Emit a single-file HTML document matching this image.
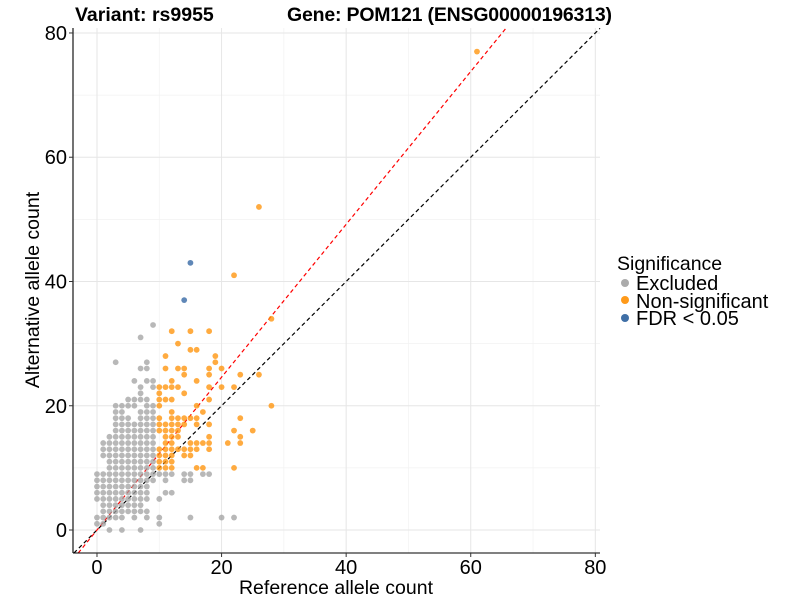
<!DOCTYPE html>
<html><head><meta charset="utf-8"><style>
body{margin:0;background:#fff;}
svg{display:block;font-family:"Liberation Sans",Arial,sans-serif;}
</style></head><body>
<svg id="chart" width="800" height="600" viewBox="0 0 800 600">
<rect width="800" height="600" fill="#fff"/>
<g id="grid"></g>
<g id="lines"></g>
<g id="points"></g>
<g id="axes"></g>
<text x="75" y="21" font-size="19.5" font-weight="bold">Variant: rs9955</text>
<text x="287" y="21" font-size="19.5" font-weight="bold" textLength="325">Gene: POM121 (ENSG00000196313)</text>
<text x="336" y="594" font-size="19.5" text-anchor="middle">Reference allele count</text>
<text transform="translate(39,290) rotate(-90)" font-size="19.5" text-anchor="middle">Alternative allele count</text>
<g>
<text x="617" y="270" font-size="19.5">Significance</text>
<circle cx="625" cy="283" r="4" fill="#ababab"/>
<text x="636" y="290" font-size="20">Excluded</text>
<circle cx="625" cy="300" r="4" fill="#ff9a1a"/>
<text x="636" y="308" font-size="20">Non-significant</text>
<circle cx="625" cy="318" r="4" fill="#3f6fa6"/>
<text x="636" y="325" font-size="20">FDR &lt; 0.05</text>
</g>
</svg>
<script>
const xTicks=[0,20,40,60,80];
const yTicks=[0,20,40,60,80];
const minorTicks=[10,30,50,70];
// excluded points: rows of [alt count, [ref counts]]
const grayRows=[
[0,[2,4,7]],[1,[0,1,10]],[2,[0,1,2,3,4,6,8,10,15,20,22]],[3,[1,2,3,4,5,6,7,8]],
[4,[1,2,3,4,5,6,7]],[5,[0,1,2,3,4,5,6,7,8,10]],[6,[0,1,2,3,4,5,6,7,8,11,12]],
[7,[0,1,2,3,4,5,6,7,8]],[8,[0,1,2,3,4,5,6,7,8,9,11,14,15]],[9,[0,1,2,3,4,5,6,7,8,9,10,11,12,14,15,17,18]],
[10,[2,3,4,5,6,7,8,9]],[11,[2,3,4,5,6,7,8,9]],[12,[1,2,3,4,5,6,7,8,9]],[13,[1,2,3,4,5,6,7,8,9]],
[14,[1,2,3,4,5,6,7,8,9]],[15,[2,3,4,5,6,7,8,9]],[16,[3,4,5,6,7,8,9]],[17,[3,4,5,6,7,8,9]],
[18,[3,4,5,7,8,9]],[19,[3,4,7,8,9]],[20,[3,4,5,6,8,9]],[21,[5,6,7,8]],[22,[7]],[23,[7,9]],
[24,[6,8,9]],[26,[7,8]],[27,[3,8]],[31,[7]],[33,[9]]
];
const orangeRows=[
[10,[10,11,12,16,17,22]],[11,[10,11,12]],[12,[10,11,12,14,15]],[13,[10,11,12,13,14,15,16,18]],
[14,[11,12,15,16,17,18,21,23]],[15,[11,12,13,18,23]],[16,[10,11,12,13,22,25]],
[17,[10,11,12,13,14,16,18]],[18,[10,12,13,14,15,16,23]],[19,[12,17]],[20,[10,16,28]],
[21,[10,11,12,18]],[22,[10,14]],[23,[10,11,12,13,18,20,22]],[24,[12,16]],[25,[14,18,23,26]],
[26,[11,13,14,18,20]],[27,[19]],[28,[11,19]],[29,[15,16]],[30,[13]],[32,[12,15,18]],
[34,[28]],[41,[22]],[52,[26]],[77,[61]]
];
const blueRef=[14,15];
const blueAlt=[37,43];
const redSlope=1.23, blackSlope=1;

const NS="http://www.w3.org/2000/svg";
const X0=73,X1=600,Y0=28,Y1=553;
const xmin=-3.85,xmax=80.75,ymin=-3.7,ymax=80.8;
function sx(v){return X0+(v-xmin)/(xmax-xmin)*(X1-X0);}
function sy(v){return Y1-(v-ymin)/(ymax-ymin)*(Y1-Y0);}
function mk(tag,attrs,parent){const e=document.createElementNS(NS,tag);for(const k in attrs)e.setAttribute(k,attrs[k]);parent.appendChild(e);return e;}
const grid=document.getElementById('grid');
minorTicks.forEach(t=>{
 let l=mk('line',{x1:sx(t),x2:sx(t),y1:Y0,y2:Y1,stroke:'#f2f2f2','stroke-width':0.7},grid);
 
 
 l=mk('line',{x1:X0,x2:X1,y1:sy(t),y2:sy(t),stroke:'#f2f2f2','stroke-width':0.7},grid);
 
 
});
xTicks.forEach(t=>{
 const l=mk('line',{x1:sx(t),x2:sx(t),y1:Y0,y2:Y1,stroke:'#e6e6e6','stroke-width':1},grid);
 
 
});
yTicks.forEach(t=>{
 const l=mk('line',{x1:X0,x2:X1,y1:sy(t),y2:sy(t),stroke:'#e6e6e6','stroke-width':1},grid);
 
 
});
const pts=document.getElementById('points');
function dot(x,y,fill,name){
 const c=mk('circle',{cx:sx(x),cy:sy(y),r:2.9,fill:fill},pts);
 
 
}
grayRows.forEach(r=>r[1].forEach(x=>dot(x,r[0],'rgba(160,160,160,0.75)','point-excluded')));
orangeRows.forEach(r=>r[1].forEach(x=>dot(x,r[0],'rgba(255,148,10,0.78)','point-nonsignificant')));
blueRef.forEach((x,i)=>dot(x,blueAlt[i],'rgba(55,105,165,0.8)','point-fdr'));
const lines=document.getElementById('lines');
function refLine(slope,color,name){
 let xa=xmin,ya=slope*xa; if(ya<ymin){ya=ymin;xa=ymin/slope;}
 let xb=xmax,yb=slope*xb; if(yb>ymax){yb=ymax;xb=ymax/slope;}
 const l=mk('line',{x1:sx(xa),y1:sy(ya),x2:sx(xb),y2:sy(yb),stroke:color,'stroke-width':1.2,'stroke-dasharray':'4,3'},lines);
 
 
}
refLine(blackSlope,'#000','identity-line');
refLine(redSlope,'#ff0000','fit-line');
const axes=document.getElementById('axes');
let a=mk('line',{x1:X0,x2:X0,y1:Y0,y2:Y1,stroke:'#000','stroke-width':1.1},axes);


a=mk('line',{x1:X0,x2:X1,y1:Y1,y2:Y1,stroke:'#000','stroke-width':1.1},axes);


xTicks.forEach(t=>{
 const tk=mk('line',{x1:sx(t),x2:sx(t),y1:Y1,y2:Y1+4,stroke:'#333'},axes);
 
 
 const tx=mk('text',{x:sx(t),y:Y1+21,'font-size':20,'text-anchor':'middle'},axes);
 tx.textContent=t;
 
 
});
yTicks.forEach(t=>{
 const tk=mk('line',{x1:X0-4,x2:X0,y1:sy(t),y2:sy(t),stroke:'#333'},axes);
 
 
 const tx=mk('text',{x:X0-6,y:sy(t)+7,'font-size':20,'text-anchor':'end'},axes);
 tx.textContent=t;
 
 
});
</script>
</body></html>
